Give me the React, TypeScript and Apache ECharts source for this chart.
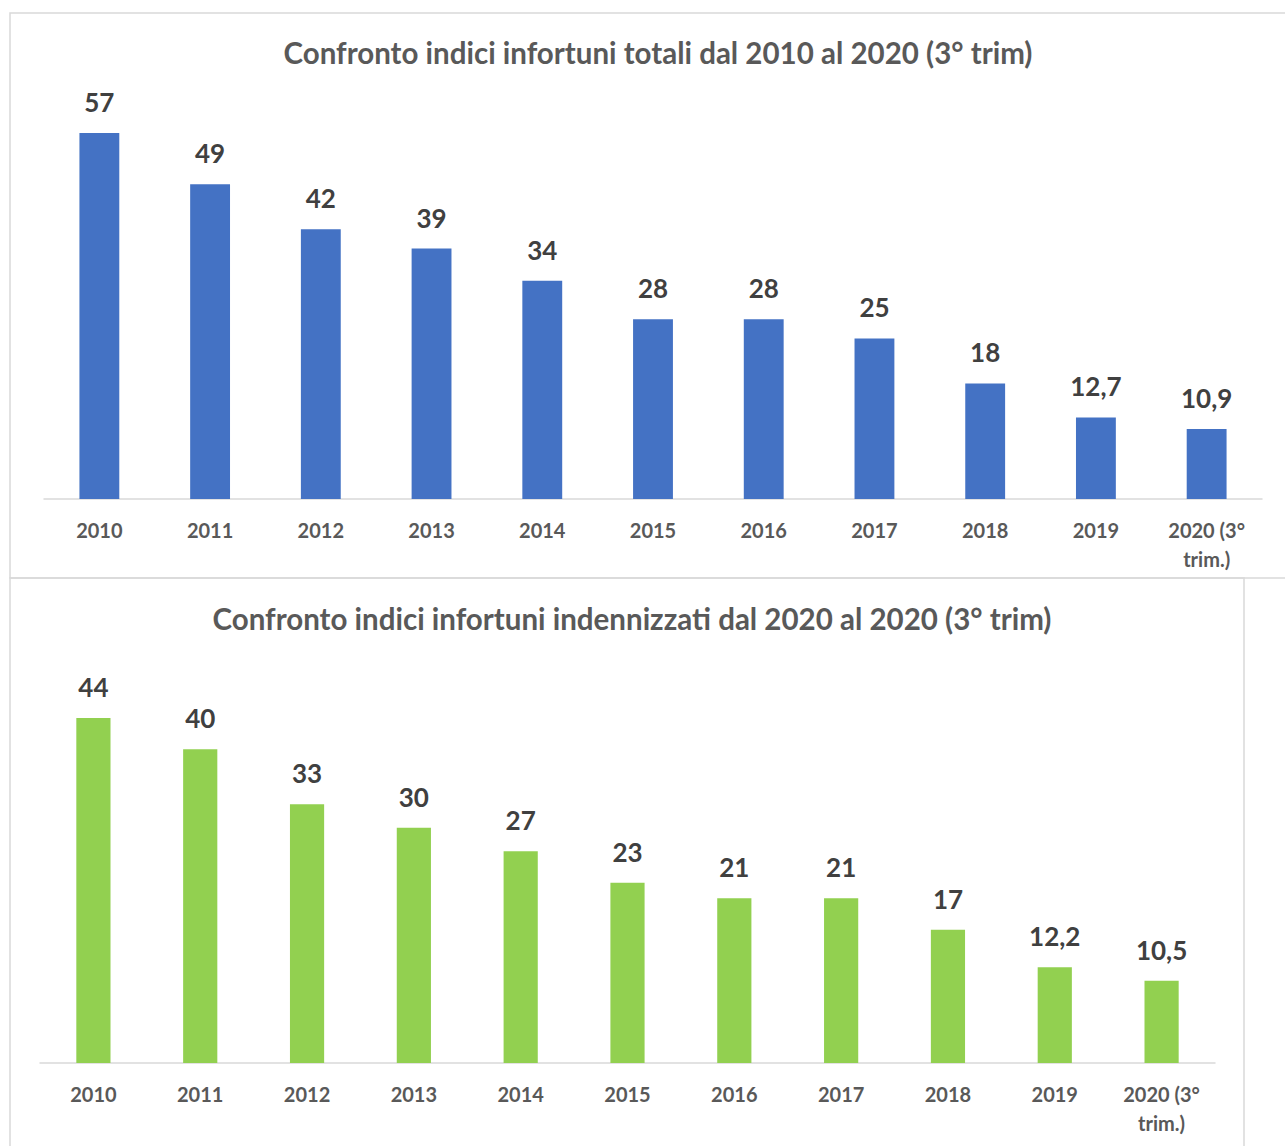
import React, { useEffect, useRef } from "react";
import * as echarts from "echarts";

const categories = ["2010", "2011", "2012", "2013", "2014", "2015", "2016", "2017", "2018", "2019", "2020 (3° trim.)"];
const totaliValues = [57, 49, 42, 39, 34, 28, 28, 25, 18, 12.7, 10.9];
const indennizzatiValues = [44, 40, 33, 30, 27, 23, 21, 21, 17, 12.2, 10.5];
const titleTop = "Confronto indici infortuni totali dal 2010 al 2020 (3° trim)";
const titleBottom = "Confronto indici infortuni indennizzati dal 2020 al 2020 (3° trim)";

const FONT = "Lato";
const fmtNum = (v: number) => String(v).replace(".", ",");
const fmtCat = (c: string) => c.replace(" trim", "\ntrim");

export default function App() {
  const ref = useRef<HTMLDivElement>(null);
  useEffect(() => {
    const chart = echarts.init(ref.current!, null, { renderer: "svg" });
    const axisLabel = {
      color: "#595959",
      fontFamily: FONT,
      fontWeight: "bold" as const,
      fontSize: 20,
      lineHeight: 29,
      margin: 16,
      interval: 0,
      formatter: fmtCat,
    };
    const labelStyle = {
      show: true,
      position: "top" as const,
      distance: 18,
      color: "#404040",
      fontFamily: FONT,
      fontWeight: "bold" as const,
      fontSize: 26,
      formatter: (p: any) => fmtNum(p.value),
    };
    const titleStyle = { color: "#595959", fontFamily: FONT, fontWeight: "bold" as const, fontSize: 29.5 };
    chart.setOption({
      animation: false,
      backgroundColor: "#ffffff",
      graphic: [
        { type: "rect", shape: { x: 10, y: 13, width: 1290, height: 565 }, style: { fill: "none", stroke: "#d9d9d9", lineWidth: 1.5 } },
        { type: "rect", shape: { x: 10, y: 578, width: 1234, height: 600 }, style: { fill: "none", stroke: "#d9d9d9", lineWidth: 1.5 } },
      ],
      title: [
        { text: titleTop, left: 653, top: 32, textAlign: "center", textStyle: titleStyle },
        { text: titleBottom, left: 627, top: 598, textAlign: "center", textStyle: titleStyle },
      ],
      grid: [
        { left: 44, width: 1218, top: 133, height: 366 },
        { left: 40, width: 1175, top: 718, height: 345 },
      ],
      xAxis: [
        { type: "category", gridIndex: 0, data: categories, axisTick: { show: false }, axisLine: { lineStyle: { color: "#d9d9d9", width: 1.5 } }, axisLabel },
        { type: "category", gridIndex: 1, data: categories, axisTick: { show: false }, axisLine: { lineStyle: { color: "#d9d9d9", width: 1.5 } }, axisLabel },
      ],
      yAxis: [
        { type: "value", gridIndex: 0, min: 0, max: 57, show: false, splitLine: { show: false } },
        { type: "value", gridIndex: 1, min: 0, max: 44, show: false, splitLine: { show: false } },
      ],
      series: [
        { type: "bar", xAxisIndex: 0, yAxisIndex: 0, data: totaliValues, barWidth: "36%", itemStyle: { color: "#4472C4" }, label: labelStyle },
        { type: "bar", xAxisIndex: 1, yAxisIndex: 1, data: indennizzatiValues, barWidth: "32%", itemStyle: { color: "#92D050" }, label: labelStyle },
      ],
    });
    return () => chart.dispose();
  }, []);
  return <div ref={ref} style={{ position: "absolute", left: 0, top: 0, width: 1285, height: 1146 }} />;
}
